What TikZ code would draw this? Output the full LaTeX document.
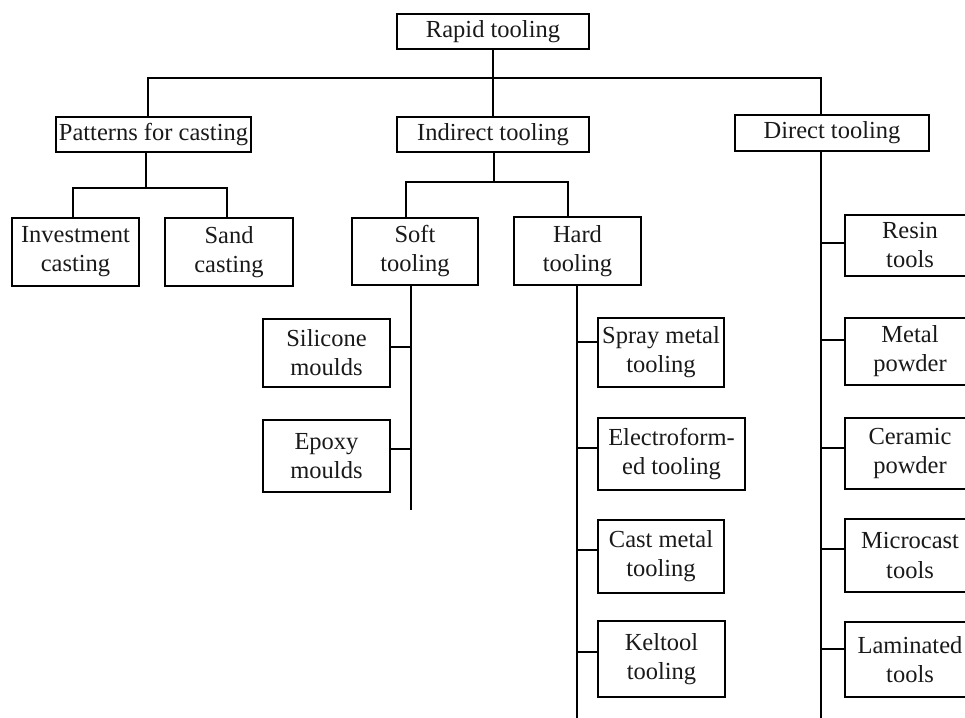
\documentclass[tikz,border=0pt]{standalone}
\usepackage{fontspec}
\setmainfont{Liberation Serif}
\begin{document}
\begin{tikzpicture}[x=1pt,y=-1pt,
  box/.style={draw=black, line width=1.8pt, inner sep=0pt, align=center,
    font=\fontsize{24.5}{29}\selectfont, text=black!90},
  conn/.style={draw=black, line width=1.8pt}]
\useasboundingbox (0,0) rectangle (965,717);
% level 0/1
\node[box, minimum width=192pt, minimum height=35pt] (rapid) at (493,31.5) {Rapid tooling};
\node[box, minimum width=195pt, minimum height=35pt] (patterns) at (153.5,134.5) {Patterns for casting};
\node[box, minimum width=192pt, minimum height=35pt] (indirect) at (493,134.5) {Indirect tooling};
\node[box, minimum width=194pt, minimum height=36pt] (direct) at (832,133) {Direct tooling};
% level 2
\node[box, minimum width=127pt, minimum height=68pt] (invest) at (75.5,252) {Investment\\casting};
\node[box, minimum width=128pt, minimum height=68pt] (sand) at (229,252) {Sand\\casting};
\node[box, minimum width=126pt, minimum height=67pt] (soft) at (415,251.5) {Soft\\tooling};
\node[box, minimum width=127pt, minimum height=68pt] (hard) at (577.5,251) {Hard\\tooling};
% soft children
\node[box, minimum width=127pt, minimum height=68pt] (silicone) at (326.5,353) {Silicone\\moulds};
\node[box, minimum width=127pt, minimum height=72pt] (epoxy) at (326.5,456) {Epoxy\\moulds};
% hard children
\node[box, minimum width=126pt, minimum height=69pt] (spray) at (661,352.5) {Spray metal\\tooling};
\node[box, minimum width=147pt, minimum height=72pt] (electro) at (671.5,454) {Electroform-\\ed tooling};
\node[box, minimum width=126pt, minimum height=73pt] (cast) at (661,556.5) {Cast metal\\tooling};
\node[box, minimum width=127pt, minimum height=76pt] (keltool) at (661.5,659) {Keltool\\tooling};
% direct children
\node[box, minimum width=130pt, minimum height=61pt] (resin) at (910,245.5) {Resin\\tools};
\node[box, minimum width=130pt, minimum height=67pt] (metal) at (910,351.5) {Metal\\powder};
\node[box, minimum width=130pt, minimum height=71pt] (ceramic) at (910,453.5) {Ceramic\\powder};
\node[box, minimum width=130pt, minimum height=73pt] (microcast) at (910,555.5) {Microcast\\tools};
\node[box, minimum width=130pt, minimum height=75pt] (laminated) at (910,659.5) {Laminated\\tools};
% junction coordinates
\coordinate (h1L) at (148,78);
\coordinate (h1R) at (821,78);
\coordinate (h2M) at (146,188);
\coordinate (h2L) at (73,188);
\coordinate (h2R) at (227,188);
\coordinate (h3M) at (494,182);
\coordinate (h3L) at (406,182);
\coordinate (h3R) at (568,182);
\coordinate (softend) at (411,510);
\coordinate (hardend) at (577,720);
\coordinate (directend) at (821,720);
\coordinate (bsil) at (411,347);
\coordinate (bepo) at (411,449);
\coordinate (bspr) at (577,342);
\coordinate (bele) at (577,448);
\coordinate (bcas) at (577,550);
\coordinate (bkel) at (577,652);
\coordinate (bres) at (821,243);
\coordinate (bmet) at (821,340);
\coordinate (bcer) at (821,448);
\coordinate (bmic) at (821,549);
\coordinate (blam) at (821,649);
% connectors
\draw[conn] (rapid.south) -- (indirect.north);
\draw[conn] (patterns.north -| h1L) -- (h1L) -- (h1R) -- (direct.north -| h1R);
\draw[conn] (patterns.south -| h2M) -- (h2M);
\draw[conn] (invest.north -| h2L) -- (h2L) -- (h2R) -- (sand.north -| h2R);
\draw[conn] (indirect.south -| h3M) -- (h3M);
\draw[conn] (soft.north -| h3L) -- (h3L) -- (h3R) -- (hard.north -| h3R);
\draw[conn] (soft.south -| softend) -- (softend);
\draw[conn] (hard.south -| hardend) -- (hardend);
\draw[conn] (direct.south -| directend) -- (directend);
\draw[conn] (silicone.east |- bsil) -- (bsil);
\draw[conn] (epoxy.east |- bepo) -- (bepo);
\draw[conn] (spray.west |- bspr) -- (bspr);
\draw[conn] (electro.west |- bele) -- (bele);
\draw[conn] (cast.west |- bcas) -- (bcas);
\draw[conn] (keltool.west |- bkel) -- (bkel);
\draw[conn] (resin.west |- bres) -- (bres);
\draw[conn] (metal.west |- bmet) -- (bmet);
\draw[conn] (ceramic.west |- bcer) -- (bcer);
\draw[conn] (microcast.west |- bmic) -- (bmic);
\draw[conn] (laminated.west |- blam) -- (blam);
\end{tikzpicture}
\end{document}
